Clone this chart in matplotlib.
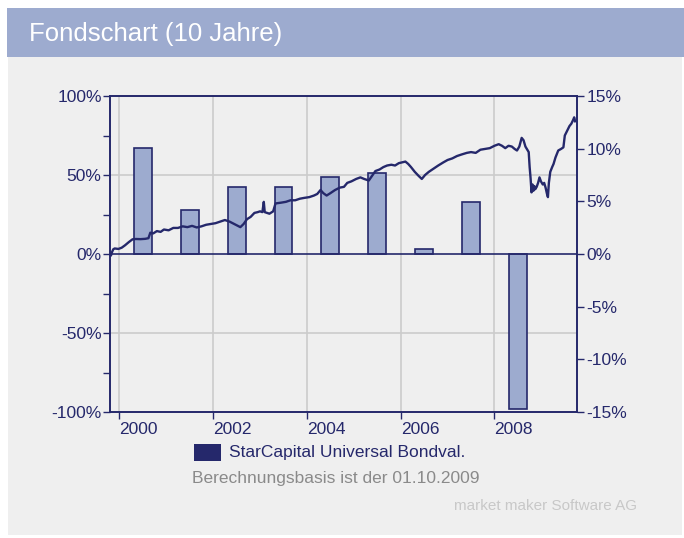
import matplotlib.pyplot as plt
from matplotlib.patches import Rectangle

plt.rcParams['font.family'] = ['Liberation Sans', 'DejaVu Sans']

NAVY = '#25286b'
BAR = '#9dabcf'
GRID = '#cccccc'
FS = 12.5

# annual returns (right axis, %)
bar_years = [2000, 2001, 2002, 2003, 2004, 2005, 2006, 2007, 2008]
bar_returns = [10.1, 4.2, 6.4, 6.4, 7.35, 7.65, 0.5, 4.9, -14.7]

# cumulative performance since 01.10.1999 (left axis, %)
perf_t = [1999.80, 1999.82, 1999.84, 1999.87, 1999.9, 1999.98, 2000.05, 2000.12, 2000.2,
          2000.28, 2000.35, 2000.45, 2000.55, 2000.62, 2000.66, 2000.72, 2000.8, 2000.88,
          2000.95, 2001.05, 2001.15, 2001.25, 2001.35, 2001.45, 2001.55, 2001.65, 2001.75,
          2001.85, 2001.95, 2002.05, 2002.15, 2002.25, 2002.35, 2002.45, 2002.52, 2002.58,
          2002.65, 2002.72, 2002.8, 2002.88, 2002.95, 2003.0, 2003.05, 2003.08, 2003.1,
          2003.2, 2003.28, 2003.33, 2003.45, 2003.55, 2003.65, 2003.75, 2003.85, 2003.94,
          2004.05, 2004.15, 2004.22, 2004.29, 2004.35, 2004.42, 2004.5, 2004.6, 2004.7,
          2004.79, 2004.86, 2004.95, 2005.05, 2005.14, 2005.22, 2005.32, 2005.4, 2005.46,
          2005.55, 2005.63, 2005.71, 2005.8, 2005.88, 2005.96, 2006.03, 2006.1, 2006.16,
          2006.22, 2006.3, 2006.38, 2006.45, 2006.52, 2006.6, 2006.7, 2006.8, 2006.91,
          2007.0, 2007.1, 2007.2, 2007.3, 2007.41, 2007.5, 2007.6, 2007.7, 2007.8, 2007.9,
          2008.0, 2008.09, 2008.16, 2008.23, 2008.3, 2008.37, 2008.43, 2008.48, 2008.53,
          2008.58, 2008.62, 2008.66, 2008.7, 2008.73, 2008.75, 2008.77, 2008.79, 2008.81,
          2008.83, 2008.85, 2008.87, 2008.9, 2008.93, 2008.96, 2008.99, 2009.03, 2009.06,
          2009.09, 2009.12, 2009.14, 2009.16, 2009.19, 2009.23, 2009.26, 2009.3, 2009.36,
          2009.42, 2009.47, 2009.5, 2009.55, 2009.6, 2009.64, 2009.68, 2009.7, 2009.72]
perf_val = [0, -1, 1, 3, 3.5, 3.2, 4, 5.5, 7.5,
            9.3, 9.5, 9.4, 9.6, 10, 13.5, 13, 14.5, 14,
            15.5, 15, 16.5, 16.5, 17.5, 17, 17.8, 16.8, 17.5,
            18.5, 19, 19.5, 20.5, 21.5, 20.5, 19, 18, 17,
            19, 22, 23.5, 26, 26.5, 27, 26.5, 33, 26.5,
            25.5, 27, 32, 32.5, 33, 34, 34, 35, 35.5,
            36, 37, 38, 40.5, 38.5, 37, 38.5, 40.5, 42,
            42.5, 45, 46, 47.5, 48.5, 47.5, 46.5, 50, 52.5,
            53.5, 55, 56, 56.5, 56, 57.5, 58, 58.5, 57,
            55, 52, 49.5, 47.5, 50, 52, 54, 56, 58,
            59.5, 60.5, 62, 63, 64, 64.5, 64, 66, 66.5, 67,
            68.5, 69.5, 68.5, 67, 68.5, 68, 66.5, 65.5, 68,
            73.5, 72, 68, 66, 64.5, 55, 48, 39, 44,
            40, 43, 41, 42.5, 45, 48.5, 46, 44, 45,
            42, 38, 36, 45, 52, 55, 57, 61, 65.5,
            66.5, 67.5, 75, 78, 81, 82.5, 85, 86.5, 84]

fig = plt.figure(figsize=(6.84, 5.38), dpi=100)
fig.patch.set_facecolor('white')
W, H = 684, 538
# gray panel and header band
fig.patches.append(Rectangle((8 / W, 3 / H), 674 / W, 478 / H, transform=fig.transFigure,
                             facecolor='#efefef', edgecolor='none', zorder=0))
fig.patches.append(Rectangle((7 / W, 1 - 57 / H), 677 / W, 49 / H, transform=fig.transFigure,
                             facecolor='#9dabcf', edgecolor='none', zorder=0))
fig.text(29 / W, 1 - 34 / H, 'Fondschart (10 Jahre)', color='white', fontsize=18.5,
         va='center', ha='left')

ax = fig.add_axes([110 / W, 1 - 412 / H, 467 / W, 316 / H])
ax2 = ax.twinx()
ax.set_zorder(2)
ax2.set_zorder(1)
ax.patch.set_visible(False)
ax2.patch.set_facecolor('white')

ax.set_xlim(1999.80, 2009.76)
ax.set_ylim(-100, 100)
ax2.set_ylim(-15, 15)

# grid behind bars
for yr in range(2000, 2010, 2):
    ax2.axvline(yr, color=GRID, lw=1.2, zorder=0)
for y in (-7.5, 7.5):
    ax2.axhline(y, color=GRID, lw=1.2, zorder=0)

ax2.bar([y + 0.5 for y in bar_years], bar_returns, width=0.38, color=BAR,
        edgecolor=NAVY, linewidth=1.2, zorder=2)

ax.axhline(0, color=NAVY, lw=1.2, zorder=3)
ax.plot(perf_t, perf_val, color=NAVY, lw=1.7, zorder=4)

for a in (ax, ax2):
    for s in a.spines.values():
        s.set_color(NAVY)
        s.set_linewidth(1.2)

ax.set_yticks([-100, -50, 0, 50, 100])
ax.set_yticklabels(['-100%', '-50%', '0%', '50%', '100%'])
ax.set_yticks([-75, -25, 25, 75], minor=True)
ax2.set_yticks([-15, -10, -5, 0, 5, 10, 15])
ax2.set_yticklabels(['-15%', '-10%', '-5%', '0%', '5%', '10%', '15%'])
ax.set_xticks([2000, 2002, 2004, 2006, 2008])
ax.set_xticklabels(['2000', '2002', '2004', '2006', '2008'], ha='left')

ax.tick_params(axis='both', which='both', colors=NAVY, labelcolor=NAVY, labelsize=FS,
               length=5, width=1, direction='out', pad=1)
ax.tick_params(axis='x', pad=2)
ax2.tick_params(axis='y', colors=NAVY, labelcolor=NAVY, labelsize=FS,
                length=5, width=1, direction='out', pad=2)

# legend and footer texts
fig.patches.append(Rectangle((194 / W, 1 - 461 / H), 27 / W, 17 / H, transform=fig.transFigure,
                             facecolor=NAVY, edgecolor='none', zorder=1))
fig.text(229 / W, 1 - 452 / H, 'StarCapital Universal Bondval.', color=NAVY, fontsize=FS,
         va='center', ha='left')
fig.text(336 / W, 1 - 479 / H, 'Berechnungsbasis ist der 01.10.2009', color='#8a8a8a',
         fontsize=FS, va='center', ha='center')
fig.text(637 / W, 1 - 506 / H, 'market maker Software AG', color='#c8c8c8', fontsize=11,
         va='center', ha='right')

fig.savefig('out.png', dpi=100, facecolor=fig.get_facecolor())
